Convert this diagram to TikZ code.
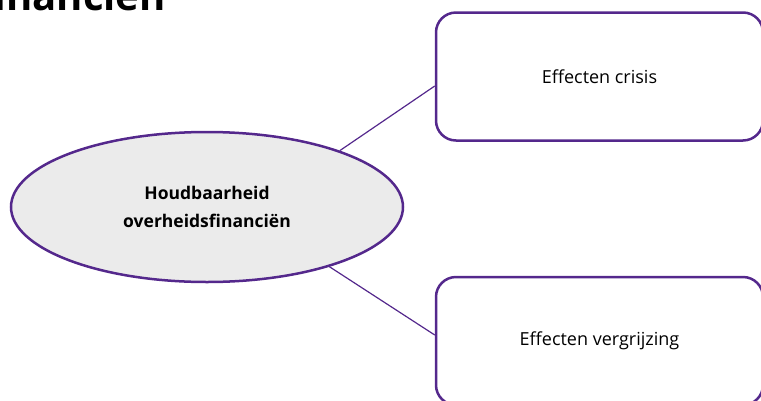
\documentclass[tikz,border=0pt]{standalone}
\usepackage{fontspec}
\setmainfont{Open Sans}
\usepackage{tikz}
\usetikzlibrary{shapes.geometric}
\definecolor{paars}{RGB}{84,40,140}
\definecolor{lichtgrijs}{RGB}{235,235,235}
\tikzset{hoofdthema/.style={ellipse, draw=paars, line width=2.5pt,
    fill=lichtgrijs, minimum width=392pt, minimum height=150pt,
    align=center, font=\fontsize{17.5}{28}\selectfont\bfseries},
  deelthema/.style={rectangle, rounded corners=20pt, draw=paars,
    line width=2.5pt, fill=white, minimum width=327pt,
    minimum height=128pt, font=\fontsize{18}{22}\selectfont},
  tak/.style={draw=paars, line width=1.2pt}}

\begin{document}
\begin{tikzpicture}[x=1pt, y=-1pt]
  \useasboundingbox (0,0) rectangle (761,400);
  \node[anchor=base east, inner sep=0pt,
    font=\fontsize{40}{46}\selectfont\bfseries] (titel) at (166,10) {financiën};
  \node[hoofdthema] (houdbaar) at (207,207)
    {Houdbaarheid\\overheidsfinanciën};
  \node[deelthema] (crisis) at (599.5,76.5) {Effecten crisis};
  \node[deelthema] (vergrijzing) at (599.5,341) {Effecten vergrijzing};
  \draw[tak] (houdbaar.23) -- ([yshift=-9.5pt]crisis.west);
  \draw[tak] (houdbaar.334) -- ([yshift=6pt]vergrijzing.west);
\end{tikzpicture}
\end{document}
